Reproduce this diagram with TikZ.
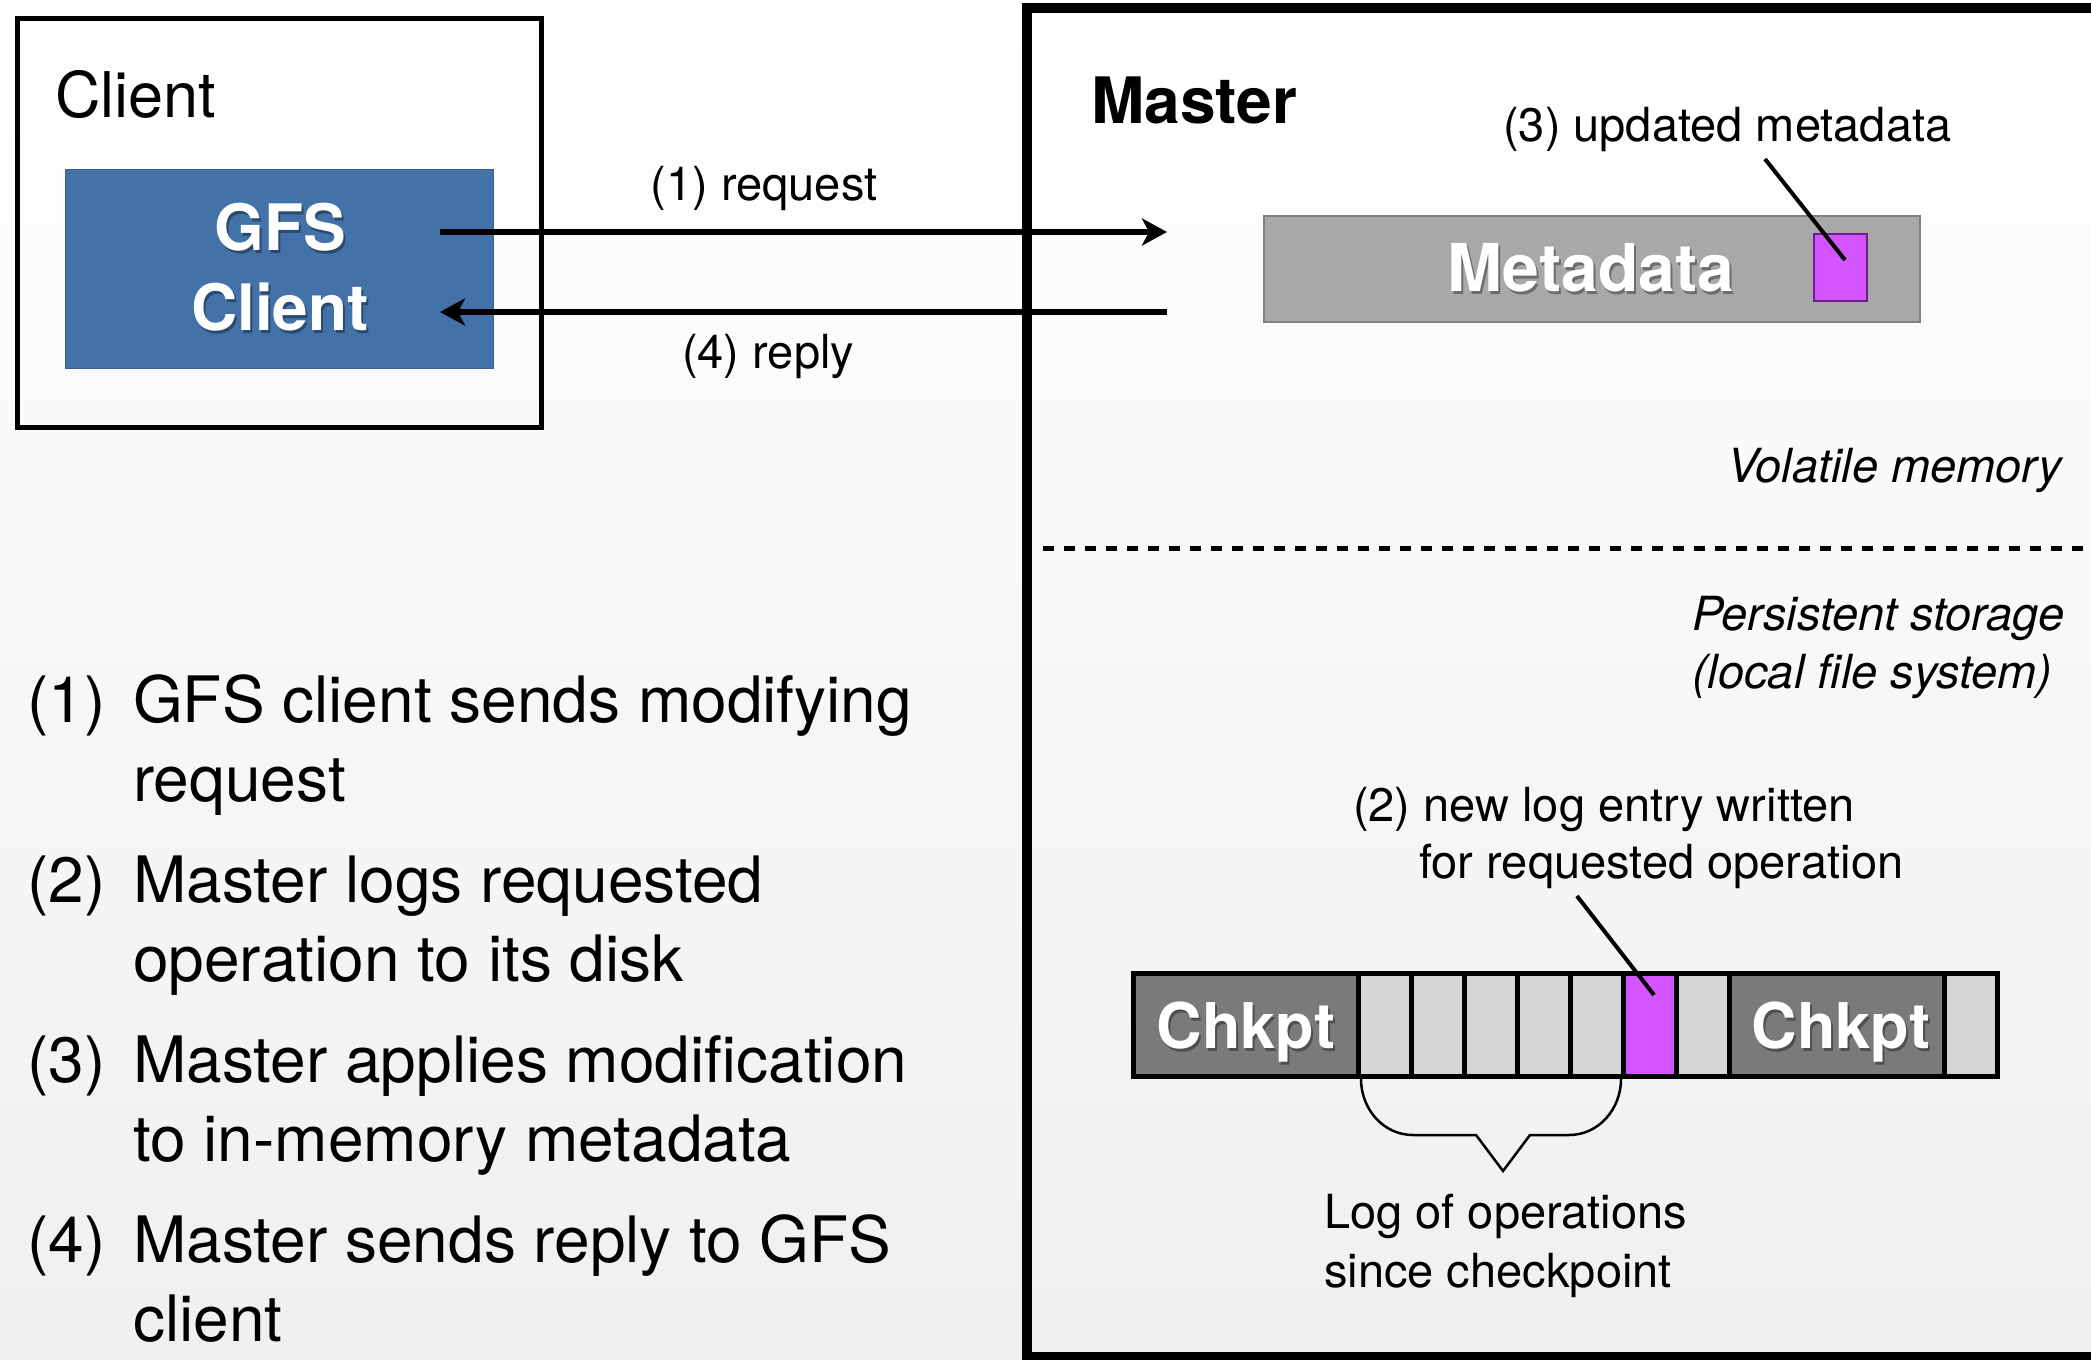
\documentclass[tikz,border=0pt]{standalone}
\usepackage{fontspec}
\setmainfont{TeX Gyre Heros}
\usetikzlibrary{arrows.meta}
\definecolor{gfsblue}{RGB}{66,114,168}
\definecolor{metagray}{RGB}{168,168,168}
\definecolor{metaedge}{RGB}{128,128,128}
\definecolor{magfill}{RGB}{210,85,255}
\definecolor{magedge}{RGB}{110,30,140}
\definecolor{chkgray}{RGB}{122,122,122}
\definecolor{cellgray}{RGB}{214,214,214}
\tikzset{
  lbl/.style={font=\fontsize{47}{56}\selectfont, inner sep=0pt},
  lbli/.style={font=\fontsize{47}{56}\selectfont\itshape, inner sep=0pt},
  listtxt/.style={font=\fontsize{64}{77}\selectfont, inner sep=0pt, anchor=base west},
  boldw/.style={font=\fontsize{64}{77}\selectfont\bfseries, text=white, inner sep=0pt, anchor=base},
  shadowtxt/.style={font=\fontsize{64}{77}\selectfont\bfseries, text=black, opacity=0.35, inner sep=0pt, anchor=base},
  arr/.style={line width=5.5pt, -{Stealth[length=25pt,width=27pt,inset=7pt]}},
  pointer/.style={line width=4pt},
  cell/.style={draw=black, line width=5pt, inner sep=0pt, minimum height=103pt},
}
\begin{document}
\begin{tikzpicture}[x=1pt,y=-1pt]
\useasboundingbox (0,0) rectangle (2091,1360);
\clip (0,0) rectangle (2091,1360);
% background gradient
\shade[top color=white, middle color=white, bottom color=black!6] (0,0) rectangle (2091,1360);

% Client box
\node[draw, line width=5pt, minimum width=524pt, minimum height=409pt, inner sep=0pt] (clientbox) at (279,222.5) {};
\node[font=\fontsize{63}{76}\selectfont, inner sep=0pt, anchor=base west] (clientlbl) at (55,117) {Client};
\node[fill=gfsblue, draw=gfsblue!85!black, line width=1pt, minimum width=428pt, minimum height=199pt, inner sep=0pt] (gfsbox) at (279,268.5) {};
\node[shadowtxt] (gfs1s) at (282,253) {GFS};
\node[boldw] (gfs1) at (280,250) {GFS};
\node[shadowtxt] (gfs2s) at (282,333) {Client};
\node[boldw] (gfs2) at (280,330) {Client};

% Master box
\draw[line width=10pt] (1027,8) rectangle (2120,1357);
\node[font=\fontsize{64}{77}\selectfont\bfseries, inner sep=0pt, anchor=base west] (masterlbl) at (1091,123) {Master};

% arrows
\coordinate (reqS) at (440,232);
\coordinate (reqE) at (1167,232);
\coordinate (repS) at (1167,312);
\coordinate (repE) at (440,312);
\draw[arr] (reqS) -- (reqE);
\draw[arr] (repS) -- (repE);
\node[lbl, anchor=base] (reqlbl) at (764,200) {(1) request};
\node[lbl, anchor=base] (replbl) at (768,368) {(4) reply};

% Metadata
\node[fill=metagray, draw=metaedge, line width=1.5pt, minimum width=656pt, minimum height=106pt, inner sep=0pt] (meta) at (1592,269) {};
\node[shadowtxt, font=\fontsize{66}{79}\selectfont\bfseries] (metatxts) at (1593,294) {Metadata};
\node[boldw, font=\fontsize{66}{79}\selectfont\bfseries] (metatxt) at (1591,291) {Metadata};
\node[fill=magfill, draw=magedge, line width=1.2pt, minimum width=53pt, minimum height=67pt, inner sep=0pt] (magmeta) at (1840.5,267.5) {};
\node[lbl, anchor=base west] (upd) at (1503,141) {(3) updated metadata};
\coordinate (p3a) at (1765,159);
\coordinate (p3b) at (1845,260);
\draw[pointer] (p3a) -- (p3b);

\node[lbli, anchor=base east] (vol) at (2062,482) {Volatile memory};
\coordinate (dashS) at (1043,548);
\coordinate (dashE) at (2091,548);
\draw[line width=5pt, dash pattern=on 11pt off 10pt] (dashS) -- (dashE);
\node[lbli, anchor=base west] (pers1) at (1692,630) {Persistent storage};
\node[lbli, anchor=base west] (pers2) at (1692,688) {(local file system)};

% log entry label
\node[lbl, anchor=base west] (new1) at (1353,821) {(2) new log entry written};
\node[lbl, anchor=base west] (new2) at (1419,878) {for requested operation};

% log bar
\node[cell, fill=chkgray, minimum width=224.5pt] (c0) at (1245.75,1025) {};
\foreach \i/\xa in {1/1358,2/1411,3/1464,4/1517,5/1570,7/1676}{
  \node[cell, fill=cellgray, minimum width=53pt] (c\i) at (\xa+26.5,1025) {};
}
\node[cell, fill=magfill, minimum width=53pt] (c6) at (1649.5,1025) {};
\node[cell, fill=chkgray, minimum width=215pt] (c8) at (1836.5,1025) {};
\node[cell, fill=cellgray, minimum width=53.5pt] (c9) at (1970.75,1025) {};
\node[shadowtxt, font=\fontsize{63}{76}\selectfont\bfseries] (ck1s) at (1248,1051) {Chkpt};
\node[boldw, font=\fontsize{63}{76}\selectfont\bfseries] (ck1) at (1246,1048) {Chkpt};
\node[shadowtxt, font=\fontsize{63}{76}\selectfont\bfseries] (ck2s) at (1843,1051) {Chkpt};
\node[boldw, font=\fontsize{63}{76}\selectfont\bfseries] (ck2) at (1841,1048) {Chkpt};

\coordinate (p2a) at (1577,896);
\coordinate (p2b) at (1654,995);
\draw[pointer] (p2a) -- (p2b);

% brace
\coordinate (brL) at (1361,1079);
\coordinate (brR) at (1621,1079);
\coordinate (brT) at (1503,1171);
\draw[line width=2.5pt, line join=miter] (brL) to[out=-90,in=180] (1413,1135) -- (1476,1135) -- (brT) -- (1530,1135) -- (1569,1135) to[out=0,in=-90] (brR);
\node[lbl, anchor=base west] (log1) at (1324,1228) {Log of operations};
\node[lbl, anchor=base west] (log2) at (1324,1287) {since checkpoint};

% list
\node[listtxt] (n1) at (27,722) {(1)};
\node[listtxt] (t1a) at (133,722) {GFS client sends modifying};
\node[listtxt] (t1b) at (133,801) {request};
\node[listtxt] (n2) at (27,902) {(2)};
\node[listtxt] (t2a) at (133,902) {Master logs requested};
\node[listtxt] (t2b) at (133,981) {operation to its disk};
\node[listtxt] (n3) at (27,1082) {(3)};
\node[listtxt] (t3a) at (133,1082) {Master applies modification};
\node[listtxt] (t3b) at (133,1161) {to in-memory metadata};
\node[listtxt] (n4) at (27,1262) {(4)};
\node[listtxt] (t4a) at (133,1262) {Master sends reply to GFS};
\node[listtxt] (t4b) at (133,1341) {client};
\end{tikzpicture}
\end{document}
